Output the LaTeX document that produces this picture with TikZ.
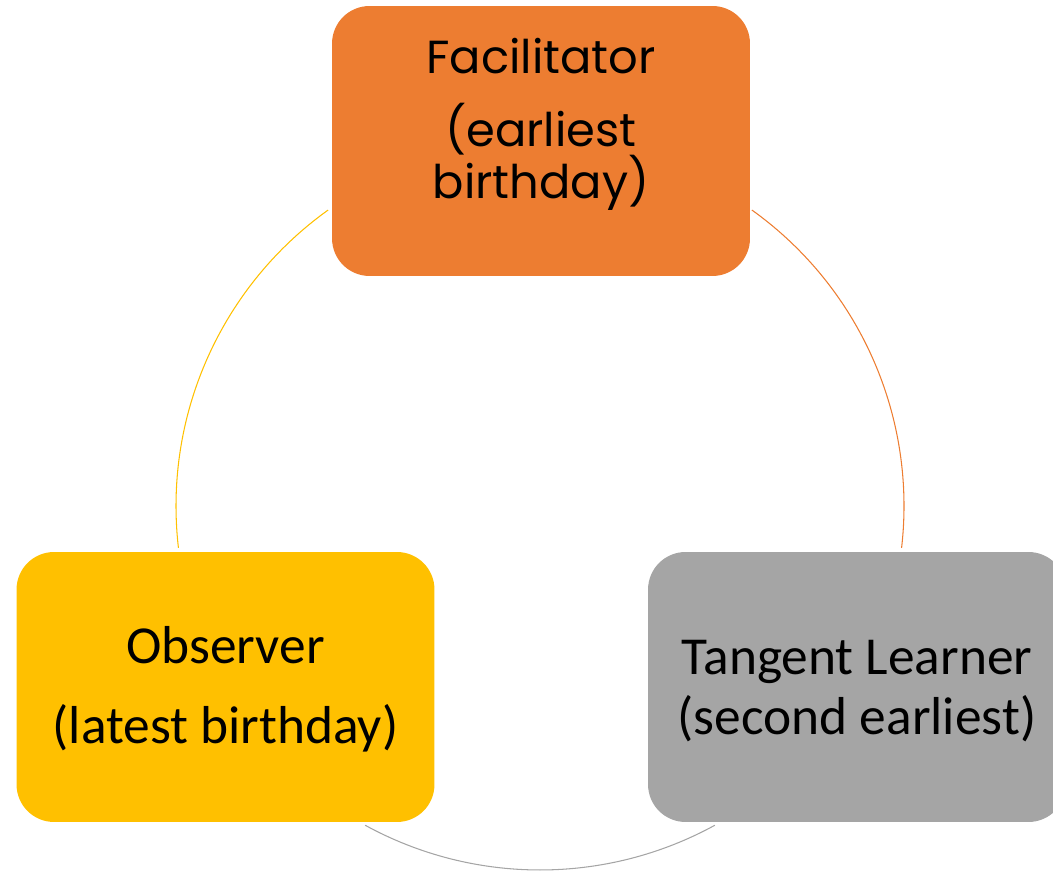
\documentclass[tikz,border=0pt]{standalone}
\usepackage{fontspec}
\setmainfont{Carlito}
\newfontfamily\geofont{Poppins}
\usepackage{tikz}
\usetikzlibrary{positioning, calc}
\definecolor{boxOrange}{HTML}{ED7D31}
\definecolor{boxYellow}{HTML}{FFC000}
\definecolor{boxGray}{HTML}{A5A5A5}

\begin{document}
\begin{tikzpicture}[x=0.02cm, y=0.02cm,
    card/.style={rounded corners=0.75cm, minimum width=8.36cm, minimum height=5.4cm, inner sep=0pt},
    cardtext/.style={align=center, font=\fontsize{30.4}{34}\selectfont},
    ring/.style={line width=0.6pt}]
    \clip (0,0) rectangle (1053,871);
    \coordinate (ctr) at (540,365);

    % 上：橙色
    \node[card, fill=boxOrange] (fac) at (541,730) {};
    \node[align=center, font=\geofont\fontsize{26.4}{29.6}\selectfont] (facTxt) at (541,747) {Facilitator\\[12pt](earliest\\birthday)};

    % 左下：黄色
    \node[card, fill=boxYellow] (obs) at (225.5,184) {};
    \node[cardtext] (obsTxt) at (225.5,182) {Observer\\[11.5pt](latest birthday)};

    % 右下：灰色
    \node[card, fill=boxGray] (tan) at (857,184) {};
    \node[cardtext] (tanTxt) at (857,180) {Tangent Learner\\(second earliest)};

    % 圆环上的端点
    \coordinate (facR) at ($(ctr)+(54.4:364)$);
    \coordinate (tanT) at ($(ctr)+(-6.6:364)$);
    \coordinate (tanL) at ($(ctr)+(-61.3:364)$);
    \coordinate (obsR) at ($(ctr)+(-118.7:364)$);
    \coordinate (obsT) at ($(ctr)+(186.6:364)$);
    \coordinate (facL) at ($(ctr)+(125.6:364)$);

    % 三段弧
    \draw[ring, boxOrange] (facR) arc[start angle=54.4, end angle=-6.6, radius=364];
    \draw[ring, boxGray] (tanL) arc[start angle=-61.3, end angle=-118.7, radius=364];
    \draw[ring, boxYellow] (obsT) arc[start angle=186.6, end angle=125.6, radius=364];
\end{tikzpicture}
\end{document}
